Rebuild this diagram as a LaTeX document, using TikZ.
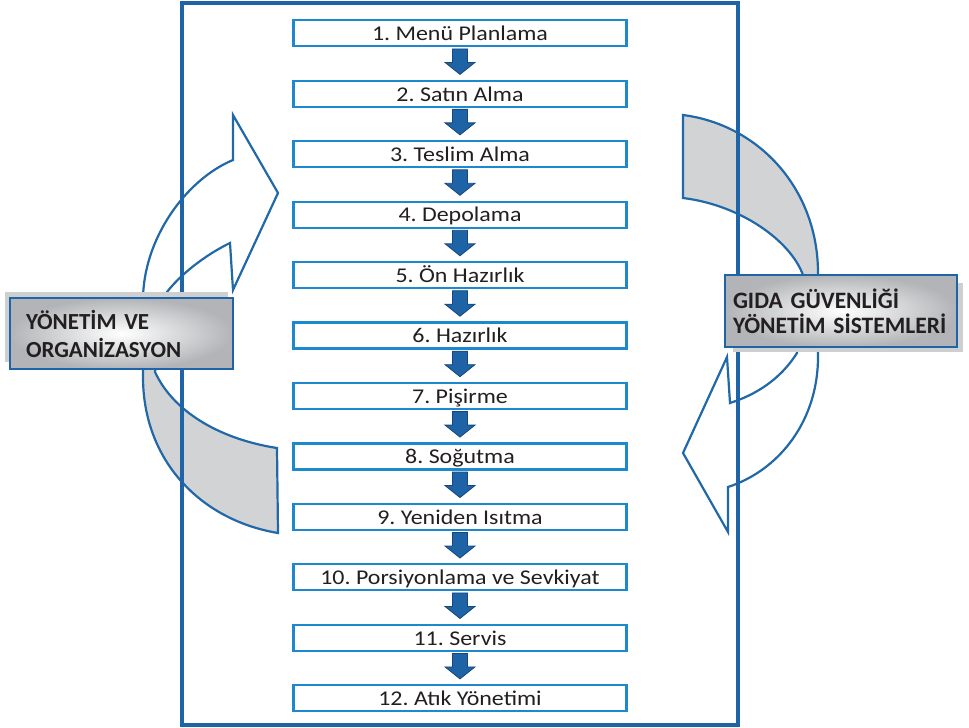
\documentclass[tikz,border=0pt]{standalone}
\usepackage{fontspec}
\setmainfont{Carlito}
\newfontfamily\stepfont[FakeStretch=1.14]{Carlito}
\definecolor{framec}{RGB}{31,100,166}
\definecolor{boxc}{RGB}{30,136,206}
\definecolor{arrfill}{RGB}{30,99,166}
\definecolor{arrline}{RGB}{22,72,125}
\definecolor{curvec}{RGB}{32,104,168}
\definecolor{greyfill}{RGB}{209,211,213}
\definecolor{txt}{RGB}{35,31,32}
\definecolor{shadowc}{RGB}{206,207,209}
\definecolor{labelouter}{RGB}{178,180,183}
\begin{document}
\frenchspacing
\begin{tikzpicture}[x=1pt,y=-1pt,
  stepbox/.style={draw=boxc, line width=2.2pt, fill=white, minimum width=333pt,
    minimum height=26pt, inner sep=0pt, text height=14.6pt, text depth=0pt,
    font=\stepfont\fontsize{21}{21}\selectfont, text=txt},
  blockarrow/.style={fill=arrfill, draw=arrline, line width=0.8pt, line join=miter},
  curvearrow/.style={draw=curvec, line width=2.2pt, line join=miter},
  labelbox/.style={draw=framec, line width=2.5pt, inner color=white, outer color=labelouter,
    align=left, text=txt, inner ysep=0pt},
  shadowbox/.style={fill=shadowc},
]
\useasboundingbox (0,0) rectangle (969,728);

% left curved arrow (white top, grey bottom)
\draw[curvearrow, fill=white, path picture={\fill[greyfill] (0,334) rectangle (400,728);}]
  (278,193) -- (233,115) -- (233,160)
  .. controls (185,180) and (143,240) .. (143,300) -- (143,377)
  .. controls (143,460) and (200,520) .. (278,533) -- (277,448)
  .. controls (225,440) and (175,415) .. (155,372) -- (167,292)
  .. controls (180,275) and (205,255) .. (230,243) -- (233,290) -- cycle;

% right curved arrow (grey top, white bottom)
\draw[curvearrow, fill=white, path picture={\fill[greyfill] (600,0) rectangle (969,311);}]
  (683,453) -- (727,357) -- (730,403)
  .. controls (755,395) and (780,380) .. (797,353) -- (803,275)
  .. controls (790,240) and (740,205) .. (683,198) -- (683,115)
  .. controls (760,125) and (818,190) .. (818,273) -- (818,357)
  .. controls (818,420) and (780,470) .. (728,487) -- (728,532) -- cycle;

% outer frame
\node[draw=framec, line width=3.5pt, minimum width=556pt, minimum height=722pt, inner sep=0pt]
  (frame) at (460,364) {};

% steps
\foreach \i/\t in {1/{1. Menü Planlama}, 2/{2. Satın Alma}, 3/{3. Teslim Alma},
  4/{4. Depolama}, 5/{5. Ön Hazırlık}, 6/{6. Hazırlık}, 7/{7. Pişirme},
  8/{8. Soğutma}, 9/{9. Yeniden Isıtma}, 10/{10. Porsiyonlama ve Sevkiyat},
  11/{11. Servis}, 12/{12. Atık Yönetimi}}
  \node[stepbox] (s\i) at (460,{33.3+60.45*(\i-1)}) {\t};

\foreach \i in {1,...,11}
  \draw[blockarrow] (s\i.south) ++(-7.5,1.5) -- ++(15,0) -- ++(0,13.5) -- ++(7.5,0)
    -- ++(-15,12) -- ++(-15,-12) -- ++(7.5,0) -- cycle;

% side labels
\fill[shadowbox] (5,292) rectangle (228,362);
\node[labelbox, minimum width=223pt, minimum height=71pt, text width=191pt, inner xsep=16pt,
  font=\bfseries\fontsize{23}{28}\selectfont] (lbl1) at (121.5,333.5)
  {\mbox{YÖNETİM VE}\\\mbox{ORGANİZASYON}};

\fill[shadowbox] (733,283) rectangle (963,352);
\node[labelbox, minimum width=232pt, minimum height=72pt, text width=216pt, inner xsep=8pt,
  font=\bfseries\fontsize{23.5}{25}\selectfont] (lbl2) at (841,311)
  {\mbox{GIDA GÜVENLİĞİ}\\\mbox{YÖNETİM SİSTEMLERİ}};
\end{tikzpicture}
\end{document}
